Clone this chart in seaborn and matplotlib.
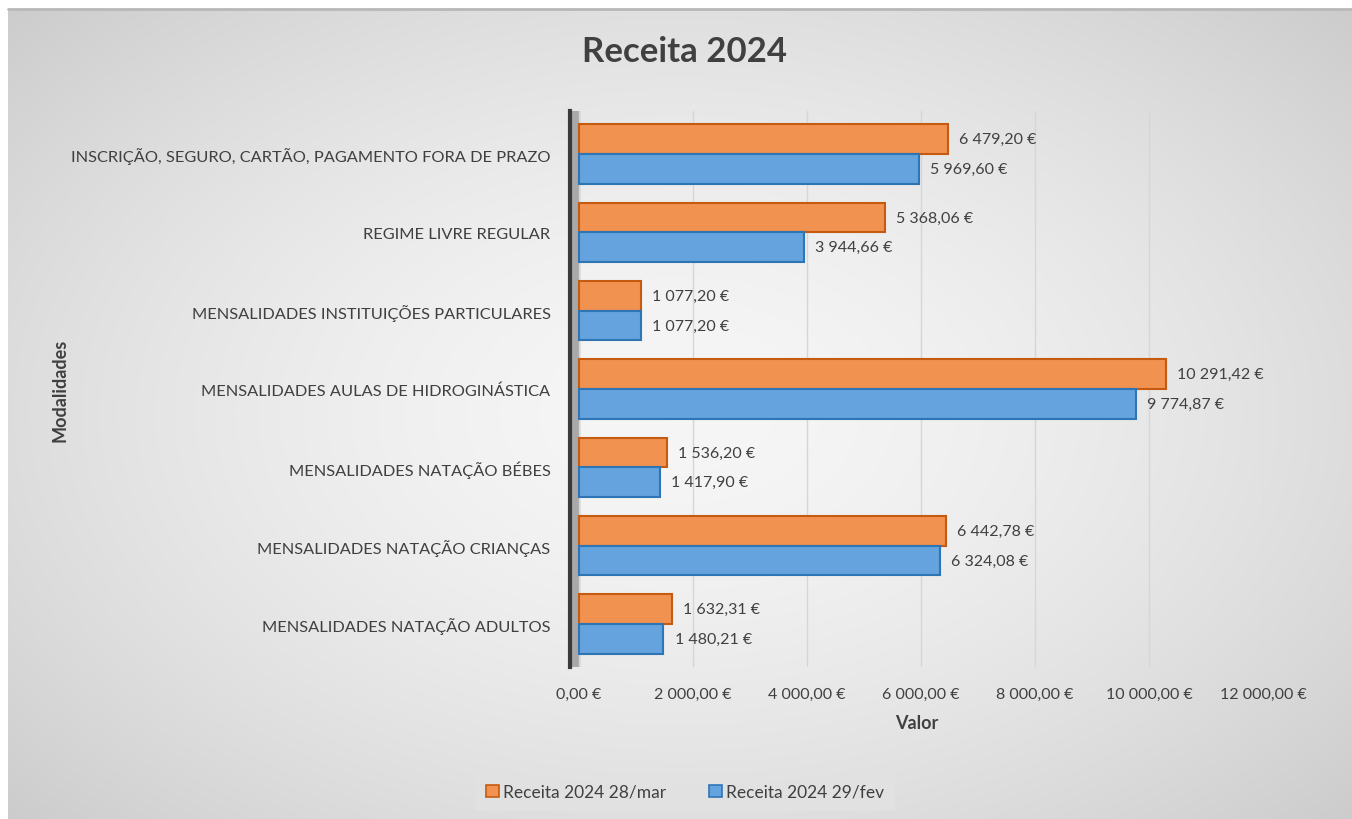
import numpy as np
import pandas as pd
import matplotlib
matplotlib.use("Agg")
import matplotlib.pyplot as plt
import seaborn as sns
from matplotlib.patches import Patch

categories = [
    "INSCRIÇÃO, SEGURO, CARTÃO, PAGAMENTO FORA DE PRAZO",
    "REGIME LIVRE REGULAR",
    "MENSALIDADES INSTITUIÇÕES PARTICULARES",
    "MENSALIDADES AULAS DE HIDROGINÁSTICA",
    "MENSALIDADES NATAÇÃO BÉBES",
    "MENSALIDADES NATAÇÃO CRIANÇAS",
    "MENSALIDADES NATAÇÃO ADULTOS",
]
series_names = ["Receita 2024 28/mar", "Receita 2024 29/fev"]
values_mar = [6479.20, 5368.06, 1077.20, 10291.42, 1536.20, 6442.78, 1632.31]
values_fev = [5969.60, 3944.66, 1077.20, 9774.87, 1417.90, 6324.08, 1480.21]
x_ticks = [0, 2000, 4000, 6000, 8000, 10000, 12000]

colors = {"Receita 2024 28/mar": "#F29250", "Receita 2024 29/fev": "#64A3DD"}
edges = {"Receita 2024 28/mar": "#C55A11", "Receita 2024 29/fev": "#2E75B6"}

def eur(v):
    s = f"{v:,.2f}".replace(",", " ").replace(".", ",")
    return s + " €"

df = pd.DataFrame({
    "Modalidades": categories * 2,
    "Valor": values_mar + values_fev,
    "Série": [series_names[0]] * len(categories) + [series_names[1]] * len(categories),
})

sns.set_theme(style="white")
plt.rcParams["font.family"] = ["Lato", "DejaVu Sans"]

W, H = 1352, 820
fig = plt.figure(figsize=(W / 100, H / 100), dpi=100)
fig.patch.set_facecolor("white")

# background radial gradient panel
bg = fig.add_axes([8 / W, 0, 1 - 8 / W, 1 - 10 / H], zorder=-10)
yy, xx = np.mgrid[0:1:300j, 0:1:500j]
r = np.sqrt(((xx - 0.5) / 0.75) ** 2 + ((yy - 0.5) / 0.8) ** 2)
shade = np.clip(0.965 - 0.19 * r ** 1.6, 0, 1)
bg.imshow(np.dstack([shade] * 3), aspect="auto", extent=[0, 1, 0, 1], origin="lower")
bg.set_axis_off()
bg.plot([0, 1], [1, 1], color="#b8b8b8", lw=2, transform=bg.transAxes, clip_on=False)

ax = fig.add_axes([570 / W, 1 - 668 / H, (1263 - 570) / W, (668 - 112) / H])
ax.patch.set_alpha(0)

sns.barplot(data=df, y="Modalidades", x="Valor", hue="Série", hue_order=series_names,
            order=categories, orient="h", palette=colors, width=0.76, ax=ax,
            legend=False, saturation=1)

for cont, name in zip(ax.containers, series_names):
    for p in cont:
        p.set_edgecolor(edges[name])
        p.set_linewidth(1.5)
    ax.bar_label(cont, labels=[eur(v) for v in cont.datavalues], padding=8,
                 fontsize=11.5, color="#404040")

ax.set_xlim(-160, 12000)
ax.set_ylim(6.55, -0.55)
ax.set_xticks(x_ticks)
ax.set_xticklabels([eur(v) for v in x_ticks], fontsize=11.5, color="#404040")
ax.tick_params(axis="x", length=0, pad=14)
ax.tick_params(axis="y", length=0, pad=14, labelsize=11.8, labelcolor="#404040")
ax.grid(axis="x", color="#d6d6d6", lw=1)
ax.set_axisbelow(True)
ax.axvspan(-160, 0, color="#a8a8a8", zorder=0.5)
for s in ["top", "right", "bottom"]:
    ax.spines[s].set_visible(False)
ax.spines["left"].set_color("#3a3a3a")
ax.spines["left"].set_linewidth(3)

ax.set_xlabel("Valor", fontsize=13, fontweight="bold", color="#404040", labelpad=10)
ax.set_ylabel("")
fig.text(60 / W, 1 - 390 / H, "Modalidades", rotation=90, ha="center", va="center",
         fontsize=13, fontweight="bold", color="#404040")
fig.text(684 / W, 1 - 52 / H, "Receita 2024", ha="center", va="center",
         fontsize=25, fontweight="bold", color="#404040")

handles = [Patch(facecolor=colors[n], edgecolor=edges[n], lw=1.2) for n in series_names]
leg = fig.legend(handles, series_names, loc="center", bbox_to_anchor=(685 / W, 1 - 793 / H),
                 ncol=2, frameon=True, fontsize=12.5, handlelength=0.75, handleheight=0.75,
                 handletextpad=0.2, columnspacing=2.5, borderpad=0.6, fancybox=False)
leg.get_frame().set_facecolor("#e2e2e2")
leg.get_frame().set_edgecolor("#e2e2e2")
for t in leg.get_texts():
    t.set_color("#404040")

fig.savefig("out.png", dpi=100)
